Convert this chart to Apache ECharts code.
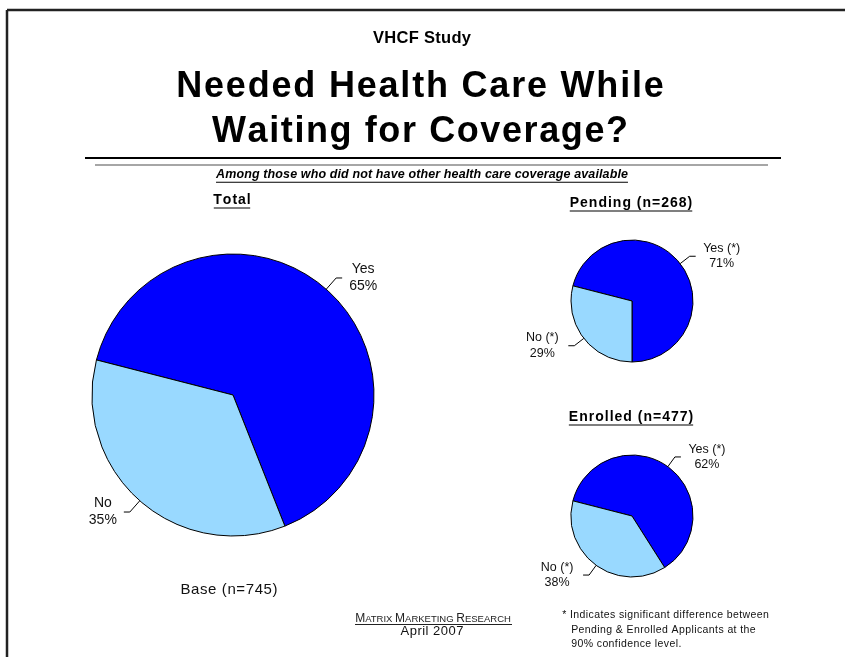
<!DOCTYPE html>
<html>
<head>
<meta charset="utf-8">
<script src="https://cdn.jsdelivr.net/npm/echarts@6/dist/echarts.min.js"></script>
<style>
  html, body { margin: 0; padding: 0; background: #fff; }
  #chart { width: 845px; height: 657px; }
</style>
</head>
<body>
<div id="chart"></div>
<script>
// values
const totalCats = ['Yes', 'No'];
const totalValues = [65, 35];
const pendingCats = ['Yes (*)', 'No (*)'];
const pendingValues = [71, 29];
const enrolledCats = ['Yes (*)', 'No (*)'];
const enrolledValues = [62, 38];
const sliceColors = ['#0000FF', '#99D9FF'];

const FONT = '"Liberation Sans", Arial, sans-serif';

const chart = echarts.init(document.getElementById('chart'), null, { renderer: 'canvas' });

// measure text so underlines fit
const ctx = document.createElement('canvas').getContext('2d');
function textWidth(str, font) {
    ctx.font = font;
    return ctx.measureText(str).width;
}

// text with a bit of letter spacing (one rich token per char)
function spaced(text, x, y, size, opt) {
    opt = opt || {};
    const sp = opt.spacing || 0;
    const weight = opt.weight || 'normal';
    const fstyle = opt.italic ? 'italic' : 'normal';
    const align = opt.align || 'center';
    const str = text.split('').map(ch => '{c|' + ch + '}').join('');
    const els = [{
        type: 'text', x: x, y: y,
        style: {
            text: str,
            rich: {
                c: {
                    fontSize: size, fontFamily: FONT, fontWeight: weight, fontStyle: fstyle,
                    fill: opt.color || '#000', padding: [0, sp / 2, 0, sp / 2]
                }
            },
            textAlign: align,
            textVerticalAlign: 'middle'
        }
    }];
    if (opt.underline) {
        const w = textWidth(text, fstyle + ' ' + weight + ' ' + size + 'px ' + FONT) + sp * (text.length - 1);
        const uy = y + size / 2 + 1;
        els.push({
            type: 'line',
            shape: { x1: x - w / 2, y1: uy, x2: x + w / 2, y2: uy },
            style: { stroke: '#000', lineWidth: 1.2 }
        });
    }
    return els;
}

function hline(x1, x2, y, w, color) {
    return { type: 'line', shape: { x1: x1, y1: y, x2: x2, y2: y }, style: { stroke: color, lineWidth: w } };
}

function pieSeries(name, cats, values, center, radius, fontSize, lineH, boxW, len) {
    return {
        name: name,
        type: 'pie',
        center: center,
        radius: radius,
        startAngle: 165.6,
        clockwise: true,
        animation: false,
        silent: true,
        data: cats.map((c, i) => ({ name: c, value: values[i], itemStyle: { color: sliceColors[i] } })),
        itemStyle: { borderColor: '#000', borderWidth: 1 },
        label: {
            show: true,
            position: 'outside',
            formatter: p => '{t|' + p.name + '}\n{t|' + p.value + '%}',
            rich: {
                t: { width: boxW, align: 'center', fontSize: fontSize, fontFamily: FONT, color: '#111', lineHeight: lineH }
            },
            distanceToLabelLine: 4
        },
        labelLine: {
            show: true,
            length: len,
            length2: 6,
            lineStyle: { color: '#000', width: 1 }
        }
    };
}

let graphics = [
    // frame (open on the right and bottom)
    hline(7, 845, 10, 2.5, '#222'),
    { type: 'line', shape: { x1: 7, y1: 10, x2: 7, y2: 657 }, style: { stroke: '#222', lineWidth: 2.5 } },
    hline(85, 781, 158, 2, '#000'),
    hline(95, 768, 165, 1.5, '#888'),
    {
        type: 'text', x: 433, y: 619,
        style: {
            text: '{b|M}{s|ATRIX }{b|M}{s|ARKETING }{b|R}{s|ESEARCH}',
            rich: {
                b: { fontSize: 12, fontFamily: FONT, fill: '#222' },
                s: { fontSize: 9.5, fontFamily: FONT, fill: '#222' }
            },
            textAlign: 'center', textVerticalAlign: 'middle'
        }
    },
    hline(355, 512, 624.5, 1, '#222')
];
graphics = graphics
    .concat(spaced('VHCF Study', 422, 38, 16.5, { weight: 'bold', spacing: 0.3 }))
    .concat(spaced('Needed Health Care While', 420, 87, 36, { weight: 'bold', spacing: 1.8 }))
    .concat(spaced('Waiting for Coverage?', 420, 132, 36, { weight: 'bold', spacing: 1.6 }))
    .concat(spaced('Among those who did not have other health care coverage available', 422, 175, 12.5,
        { weight: 'bold', italic: true, spacing: 0.12, underline: true }))
    .concat(spaced('Total', 232, 200, 14, { weight: 'bold', spacing: 1, underline: true }))
    .concat(spaced('Pending (n=268)', 631, 203, 14, { weight: 'bold', spacing: 1, underline: true }))
    .concat(spaced('Enrolled (n=477)', 631, 417, 14, { weight: 'bold', spacing: 1, underline: true }))
    .concat(spaced('Base (n=745)', 229, 590, 15, { spacing: 0.6, color: '#111' }))
    .concat(spaced('April 2007', 432, 631, 13, { spacing: 0.5, color: '#111' }))
    .concat(spaced('* Indicates significant difference between', 562, 615, 10.5, { spacing: 0.4, align: 'left', color: '#111' }))
    .concat(spaced('Pending & Enrolled Applicants at the', 571, 630, 10.5, { spacing: 0.4, align: 'left', color: '#111' }))
    .concat(spaced('90% confidence level.', 571, 644, 10.5, { spacing: 0.4, align: 'left', color: '#111' }));

chart.setOption({
    backgroundColor: '#fff',
    graphic: graphics,
    series: [
        pieSeries('Total', totalCats, totalValues, [233, 395], 141, 14, 17, 34, 15),
        pieSeries('Pending', pendingCats, pendingValues, [632, 301], 61, 12.5, 15.5, 44, 12),
        pieSeries('Enrolled', enrolledCats, enrolledValues, [632, 516], 61, 12.5, 15.5, 44, 12)
    ]
});
</script>
</body>
</html>
